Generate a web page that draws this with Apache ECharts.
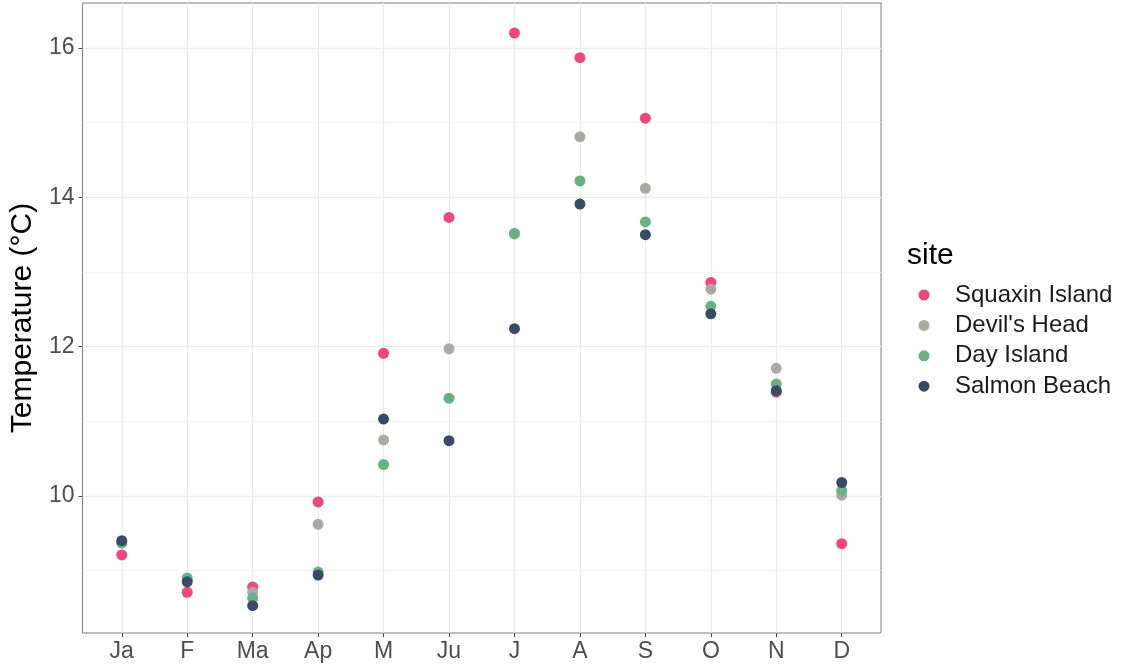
<!DOCTYPE html>
<html>
<head>
<meta charset="utf-8">
<script src="https://cdn.jsdelivr.net/npm/echarts@6/dist/echarts.min.js"></script>
<style>html,body{margin:0;padding:0;background:#fff}#c{width:1131px;height:672px}</style>
</head>
<body>
<div id="c"></div>
<script>
const months = ['Ja','F','Ma','Ap','M','Ju','J','A','S','O','N','D'];
const sites = ['Squaxin Island', "Devil's Head", 'Day Island', 'Salmon Beach'];
const squaxin = [9.21, 8.71, 8.78, 9.92, 11.91, 13.73, 16.20, 15.87, 15.06, 12.86, 11.39, 9.36];
const devils  = [9.37, 8.88, 8.71, 9.62, 10.75, 11.97, 13.52, 14.81, 14.12, 12.77, 11.71, 10.01];
const day     = [9.37, 8.90, 8.63, 8.98, 10.42, 11.31, 13.51, 14.22, 13.67, 12.54, 11.50, 10.07];
const salmon  = [9.40, 8.85, 8.53, 8.94, 11.03, 10.74, 12.24, 13.91, 13.50, 12.44, 11.41, 10.18];
const yMajor = [10, 12, 14, 16];
const yMinor = [9, 11, 13, 15];
const colors = ['#F0467F', '#ABA9A3', '#6BAF85', '#3A4A66'];
const values = [squaxin, devils, day, salmon];

const xIdx = months.map((m, i) => i);
const series = sites.map((s, k) => ({
  name: s,
  type: 'scatter',
  symbolSize: 11,
  itemStyle: { color: colors[k], opacity: 1 },
  z: 3 + k,
  data: values[k].map((v, i) => [i, v])
}));

const FONT = 'Liberation Sans';
const chart = echarts.init(document.getElementById('c'));
chart.setOption({
  animation: false,
  title: {
    text: 'site', left: 907, top: 241, padding: 0,
    textStyle: { fontFamily: FONT, fontSize: 30, fontWeight: 'normal', color: '#000' }
  },
  legend: {
    orient: 'vertical', left: 918.5, top: 282, padding: 0,
    icon: 'circle', itemWidth: 11, itemHeight: 11, itemGap: 4.4,
    data: sites,
    textStyle: { fontFamily: FONT, fontSize: 24, color: '#1a1a1a', lineHeight: 26, padding: [0, 0, 0, 20.5] }
  },
  grid: [
    { left: 79, right: 250, top: 3, bottom: 39, show: true, borderColor: '#7f7f7f', borderWidth: 1, backgroundColor: 'transparent' }
  ],
  xAxis: [{
    type: 'value', min: -0.6, max: 11.6,
    axisLine: { show: false, onZero: false },
    axisTick: { show: true, length: 4, lineStyle: { color: '#444' }, customValues: xIdx },
    axisLabel: { customValues: xIdx, formatter: v => months[Math.round(v)], fontFamily: FONT, fontSize: 23, color: '#4D4D4D', margin: 7 },
    splitLine: { show: true, lineStyle: { color: '#EBEBEB', width: 1.3 } }
  }],
  yAxis: [{
    type: 'value', min: 8.164, max: 16.603,
    name: 'Temperature (°C)', nameLocation: 'middle', nameGap: 39,
    nameTextStyle: { fontFamily: FONT, fontSize: 30, color: '#000' },
    axisLine: { show: false, onZero: false },
    axisTick: { show: true, length: 4, lineStyle: { color: '#444' }, customValues: yMajor },
    axisLabel: { customValues: yMajor, fontFamily: FONT, fontSize: 23, color: '#4D4D4D', margin: 8 },
    splitLine: { show: true, lineStyle: { color: '#EBEBEB', width: 1.3 } }
  }, {
    type: 'value', min: 8.164, max: 16.603, position: 'left',
    axisLine: { show: false, onZero: false },
    axisTick: { show: false, customValues: yMinor },
    axisLabel: { show: false, customValues: yMinor },
    splitLine: { show: true, lineStyle: { color: '#F2F2F2', width: 0.8 } }
  }],
  series: series
});
</script>
</body>
</html>
